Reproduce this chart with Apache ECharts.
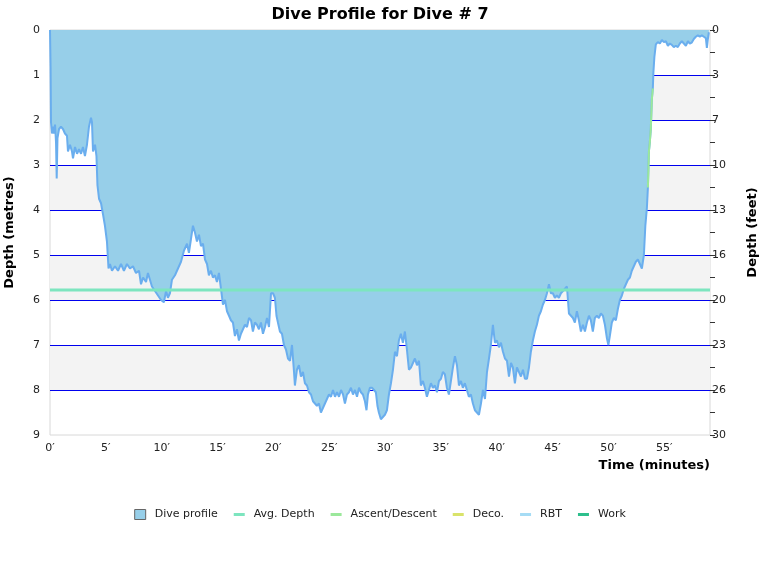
<!DOCTYPE html>
<html>
<head>
<meta charset="utf-8">
<title>Dive Profile</title>
<script src="https://cdn.jsdelivr.net/npm/echarts@6/dist/echarts.min.js"></script>
<style>
    html, body { margin: 0; padding: 0; background: #fff; }
    #chart { width: 760px; height: 580px; }
</style>
</head>
<body>
<div id="chart"></div>
<script>
// time in minutes, depth in metres
var times = [
    0, 0.05, 0.09, 0.18, 0.27, 0.36, 0.45, 0.54, 0.6, 0.67, 0.81, 0.98, 1.16, 1.34, 1.52, 1.61, 1.79, 1.97, 2.06, 2.24,
    2.42, 2.6, 2.78, 2.95, 3.13, 3.31, 3.49, 3.67, 3.76, 3.85, 4.03, 4.16, 4.25, 4.39, 4.57, 4.75, 4.92, 5.1, 5.24, 5.37,
    5.55, 5.82, 6.09, 6.36, 6.62, 6.89, 7.16, 7.43, 7.7, 7.97, 8.15, 8.33, 8.6, 8.77, 8.95, 9.13, 9.4, 9.67, 9.94, 10.2,
    10.39, 10.56, 10.74, 10.92, 11.19, 11.46, 11.73, 12.0, 12.27, 12.44, 12.62, 12.8, 12.98, 13.16, 13.34, 13.52, 13.7, 13.88, 14.06, 14.23,
    14.41, 14.59, 14.77, 14.95, 15.13, 15.31, 15.49, 15.67, 15.85, 16.03, 16.2, 16.38, 16.56, 16.74, 16.92, 17.1, 17.28, 17.46, 17.64, 17.82,
    18.0, 18.17, 18.35, 18.53, 18.71, 18.89, 19.07, 19.25, 19.43, 19.61, 19.79, 19.97, 20.14, 20.28, 20.41, 20.59, 20.77, 20.95, 21.13, 21.31,
    21.49, 21.67, 21.85, 21.93, 22.11, 22.29, 22.47, 22.65, 22.83, 23.01, 23.19, 23.37, 23.55, 23.72, 23.9, 24.08, 24.26, 24.44, 24.62, 24.8,
    24.98, 25.16, 25.34, 25.52, 25.7, 25.88, 26.06, 26.24, 26.41, 26.59, 26.77, 26.95, 27.13, 27.31, 27.49, 27.67, 27.84, 28.02, 28.2, 28.34,
    28.47, 28.65, 28.83, 29.01, 29.18, 29.32, 29.45, 29.63, 29.81, 29.99, 30.17, 30.35, 30.53, 30.71, 30.89, 31.07, 31.24, 31.42, 31.6, 31.78,
    31.96, 32.14, 32.32, 32.5, 32.68, 32.86, 33.04, 33.21, 33.39, 33.57, 33.75, 33.93, 34.11, 34.29, 34.47, 34.65, 34.83, 35.01, 35.18, 35.36,
    35.54, 35.72, 35.9, 36.08, 36.26, 36.44, 36.62, 36.8, 36.97, 37.15, 37.33, 37.51, 37.69, 37.87, 38.05, 38.23, 38.41, 38.59, 38.77, 38.95,
    39.13, 39.31, 39.48, 39.66, 39.84, 40.02, 40.2, 40.38, 40.56, 40.74, 40.92, 41.1, 41.28, 41.45, 41.63, 41.81, 41.99, 42.17, 42.35, 42.53,
    42.71, 42.89, 43.06, 43.24, 43.42, 43.6, 43.78, 43.96, 44.14, 44.32, 44.5, 44.68, 44.85, 45.03, 45.21, 45.39, 45.57, 45.75, 45.93, 46.11,
    46.29, 46.47, 46.65, 46.83, 47.0, 47.18, 47.36, 47.54, 47.72, 47.9, 48.08, 48.26, 48.43, 48.61, 48.79, 48.97, 49.15, 49.33, 49.51, 49.69,
    49.87, 50.0, 50.13, 50.31, 50.49, 50.67, 50.85, 51.03, 51.21, 51.39, 51.57, 51.75, 51.93, 52.1, 52.28, 52.46, 52.64, 52.82, 53.0, 53.18,
    53.31, 53.45, 53.54, 53.63, 53.71, 53.8, 53.89, 53.98, 54.03, 54.12, 54.25, 54.43, 54.61, 54.79, 54.97, 55.15, 55.33, 55.5, 55.68, 55.86,
    56.04, 56.22, 56.4, 56.58, 56.76, 56.94, 57.12, 57.29, 57.47, 57.65, 57.83, 58.01, 58.19, 58.37, 58.55, 58.73, 58.82, 58.91, 59.0
];
var depths = [
    0, 0.8, 2.05, 2.3, 2.15, 2.3, 2.1, 2.5, 3.3, 2.4, 2.2, 2.15, 2.2, 2.3, 2.35, 2.7, 2.55, 2.7, 2.85, 2.6,
    2.75, 2.65, 2.75, 2.6, 2.8, 2.55, 2.15, 1.95, 2.05, 2.7, 2.55, 2.8, 3.45, 3.75, 3.85, 4.1, 4.35, 4.7, 5.3, 5.2,
    5.35, 5.25, 5.35, 5.2, 5.35, 5.2, 5.3, 5.25, 5.4, 5.35, 5.65, 5.5, 5.6, 5.4, 5.55, 5.7, 5.8, 5.9, 6.0, 6.05,
    5.8, 5.95, 5.85, 5.55, 5.45, 5.3, 5.15, 4.9, 4.75, 4.95, 4.65, 4.35, 4.5, 4.7, 4.55, 4.8, 4.75, 5.1, 5.2, 5.45,
    5.35, 5.5, 5.45, 5.6, 5.4, 5.75, 6.1, 6.0, 6.25, 6.35, 6.45, 6.5, 6.8, 6.65, 6.9, 6.75, 6.65, 6.55, 6.6, 6.4,
    6.45, 6.7, 6.5, 6.55, 6.65, 6.5, 6.75, 6.6, 6.4, 6.6, 5.85, 5.85, 5.95, 6.35, 6.5, 6.7, 6.75, 7.0, 7.1, 7.3,
    7.35, 7.0, 7.6, 7.9, 7.55, 7.45, 7.7, 7.6, 7.85, 7.9, 8.05, 8.1, 8.25, 8.25, 8.35, 8.3, 8.5, 8.4, 8.3, 8.2,
    8.1, 8.15, 8.0, 8.15, 8.05, 8.15, 8.0, 8.1, 8.3, 8.1, 8.05, 7.95, 8.1, 8.0, 8.15, 7.95, 8.05, 8.1, 8.25, 8.45,
    8.1, 7.95, 7.95, 8.0, 8.05, 8.35, 8.5, 8.65, 8.6, 8.55, 8.45, 8.1, 7.85, 7.55, 7.15, 7.25, 6.9, 6.75, 6.95, 6.7,
    7.1, 7.55, 7.5, 7.4, 7.3, 7.45, 7.35, 7.9, 7.8, 7.95, 8.15, 8.0, 7.85, 7.95, 7.9, 8.05, 7.8, 7.75, 7.6, 7.65,
    7.95, 8.1, 7.8, 7.5, 7.25, 7.45, 7.9, 7.8, 7.95, 7.85, 8.0, 8.15, 8.1, 8.3, 8.45, 8.5, 8.55, 8.3, 8.0, 8.2,
    7.6, 7.3, 7.0, 6.55, 6.95, 6.9, 7.05, 6.95, 7.15, 7.3, 7.35, 7.7, 7.4, 7.5, 7.85, 7.5, 7.6, 7.7, 7.55, 7.75,
    7.75, 7.5, 7.15, 6.9, 6.7, 6.55, 6.35, 6.25, 6.1, 6.0, 5.85, 5.65, 5.85, 5.85, 5.95, 5.9, 5.95, 5.85, 5.8, 5.75,
    5.7, 6.3, 6.35, 6.4, 6.5, 6.25, 6.45, 6.7, 6.55, 6.7, 6.5, 6.35, 6.45, 6.7, 6.4, 6.35, 6.4, 6.3, 6.35, 6.55,
    6.85, 7.0, 6.8, 6.5, 6.4, 6.45, 6.2, 6.0, 5.9, 5.75, 5.65, 5.55, 5.5, 5.35, 5.25, 5.15, 5.1, 5.2, 5.3, 5.0,
    4.35, 3.95, 3.5, 2.7, 2.5, 2.2, 1.55, 1.3, 0.95, 0.6, 0.32, 0.27, 0.3, 0.22, 0.27, 0.25, 0.35, 0.3, 0.33, 0.38,
    0.35, 0.38, 0.3, 0.25, 0.3, 0.35, 0.25, 0.3, 0.28, 0.2, 0.15, 0.12, 0.15, 0.12, 0.15, 0.18, 0.4, 0.2, 0.05
];

// ascent segment (green) near the end of the dive
var ascentTimes = [53.54, 53.63, 53.71, 53.8, 53.89, 53.98];
var ascentDepths = [3.5, 2.7, 2.5, 2.2, 1.55, 1.3];

var avgDepth = 5.78;
var timeMax = 59.1;
var depthMax = 9;

var legendNames = ['Dive profile', 'Avg. Depth', 'Ascent/Descent', 'Deco.', 'RBT', 'Work'];
var seriesColors = ['#97cfe9', '#7de5bf', '#9be89b', '#d9e36a', '#a6dcf5', '#2dbf8c'];

function pairs(xs, ys) {
    var out = [];
    for (var i = 0; i < xs.length; i++) out.push([xs[i], ys[i]]);
    return out;
}

// short thick dash for the line entries of the legend (empty subpaths keep the 0..10 box)
var dashIcon = 'path://M0,0L11,0Z M0,3.5L11,3.5L11,6.5L0,6.5Z M0,10L11,10Z';

var fontFamily = 'DejaVu Sans, Verdana, sans-serif';
var chart = echarts.init(document.getElementById('chart'));

var legendData = [{ name: legendNames[0], icon: 'rect', itemStyle: { color: seriesColors[0], borderColor: '#666', borderWidth: 1 } }];
for (var k = 1; k < legendNames.length; k++) {
    legendData.push({ name: legendNames[k], icon: dashIcon, itemStyle: { color: seriesColors[k] } });
}

var option = {
    animation: false,
    title: {
        text: 'Dive Profile for Dive # 7',
        left: 'center',
        top: 2,
        textStyle: { fontFamily: fontFamily, fontSize: 16, fontWeight: 'bold', color: '#000' }
    },
    legend: {
        top: 504,
        left: 'center',
        itemWidth: 11,
        itemHeight: 10,
        itemGap: 16,
        textStyle: { fontFamily: fontFamily, fontSize: 11, color: '#222', padding: [0, 0, 0, 4] },
        data: legendData
    },
    grid: {
        left: 50,
        right: 50,
        top: 30,
        bottom: 145,
        outerBoundsMode: 'none',
        show: true,
        borderColor: '#d8d8d8',
        borderWidth: 1
    },
    xAxis: {
        type: 'value',
        min: 0,
        max: timeMax,
        interval: 5,
        name: 'Time (minutes)',
        nameLocation: 'end',
        nameGap: 0,
        nameTextStyle: {
            fontFamily: fontFamily, fontSize: 13, fontWeight: 'bold', color: '#000',
            align: 'right', verticalAlign: 'top', padding: [24, 0, 0, 0]
        },
        axisLine: { show: false, onZero: false },
        axisTick: { show: false },
        splitLine: { show: false },
        axisLabel: {
            margin: 8,
            color: '#222',
            fontFamily: fontFamily,
            fontSize: 11,
            showMaxLabel: false,
            formatter: function(v) { return v + '′'; }
        }
    },
    yAxis: [
        {
            type: 'value',
            inverse: true,
            min: 0,
            max: depthMax,
            interval: 1,
            name: 'Depth (metres)',
            nameLocation: 'middle',
            nameGap: 34,
            nameRotate: 90,
            nameTextStyle: { fontFamily: fontFamily, fontSize: 13, fontWeight: 'bold', color: '#000' },
            axisLine: { show: false },
            axisTick: { show: false },
            axisLabel: { margin: 10, color: '#222', fontFamily: fontFamily, fontSize: 11 },
            splitLine: {
                show: true,
                showMinLine: false,
                showMaxLine: false,
                lineStyle: { color: '#0000ee', width: 1 }
            },
            splitArea: {
                show: true,
                areaStyle: { color: ['rgba(255,255,255,0)', '#f3f3f3'] }
            }
        },
        {
            type: 'value',
            inverse: true,
            position: 'right',
            min: 0,
            max: depthMax,
            interval: 0.5,
            name: 'Depth (feet)',
            nameLocation: 'middle',
            nameGap: 36,
            nameRotate: 90,
            nameTextStyle: { fontFamily: fontFamily, fontSize: 13, fontWeight: 'bold', color: '#000' },
            axisLine: { show: false },
            axisTick: { show: true, length: 5, lineStyle: { color: '#333' } },
            splitLine: { show: false },
            axisLabel: {
                margin: 2,
                color: '#222',
                fontFamily: fontFamily,
                fontSize: 11,
                // metres -> feet, only on whole metres
                formatter: function(v) {
                    return v % 1 === 0 ? String(Math.round(v * 3.28)) : '';
                }
            }
        }
    ],
    series: [
        {
            name: legendNames[0],
            type: 'line',
            data: pairs(times, depths),
            symbol: 'none',
            z: 2,
            itemStyle: { color: seriesColors[0] },
            lineStyle: { color: '#6aaeee', width: 2 },
            areaStyle: { color: seriesColors[0], opacity: 1 }
        },
        {
            name: legendNames[1],
            type: 'line',
            data: [[0, avgDepth], [timeMax, avgDepth]],
            symbol: 'none',
            z: 4,
            itemStyle: { color: seriesColors[1] },
            lineStyle: { color: seriesColors[1], width: 3 }
        },
        {
            name: legendNames[2],
            type: 'line',
            data: pairs(ascentTimes, ascentDepths),
            symbol: 'none',
            z: 3,
            itemStyle: { color: seriesColors[2] },
            lineStyle: { color: seriesColors[2], width: 2 }
        },
        { name: legendNames[3], type: 'line', data: [], symbol: 'none', itemStyle: { color: seriesColors[3] }, lineStyle: { color: seriesColors[3], width: 3 } },
        { name: legendNames[4], type: 'line', data: [], symbol: 'none', itemStyle: { color: seriesColors[4] }, lineStyle: { color: seriesColors[4], width: 3 } },
        { name: legendNames[5], type: 'line', data: [], symbol: 'none', itemStyle: { color: seriesColors[5] }, lineStyle: { color: seriesColors[5], width: 3 } }
    ]
};

chart.setOption(option);
</script>
</body>
</html>
